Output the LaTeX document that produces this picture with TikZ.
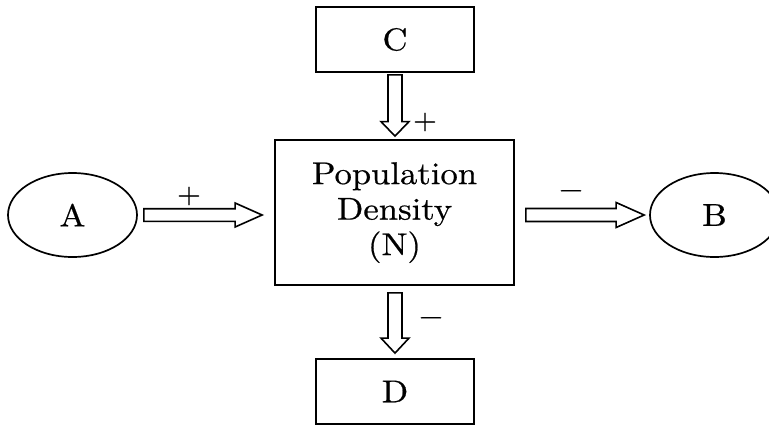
\documentclass[tikz,border=0pt]{standalone}
\usepackage{fontspec}
\setmainfont{lmroman10-regular}[Extension=.otf, FakeStretch=1.1, FakeBold=0.6]
\usetikzlibrary{shapes.geometric,calc}

\newcommand\fatarrow[5]{%
  \draw[fatline] let \p1=(#1), \p2=(#2),
    \n1={veclen(\x2-\x1,\y2-\y1)}, \n2={atan2(\y2-\y1,\x2-\x1)} in
    [shift={(\p1)}, rotate=\n2]
    (0,#3) -- (\n1-#5,#3) -- (\n1-#5,#4) -- (\n1,0) -- (\n1-#5,-#4)
    -- (\n1-#5,-#3) -- (0,-#3) -- cycle;}

\tikzset{
  box/.style={draw, line width=1.8pt, inner sep=0pt, align=center,
    font=\fontsize{31.5}{35.5}\selectfont},
  oval/.style={ellipse, draw, line width=1.7pt, inner sep=0pt,
    minimum width=129, minimum height=84, font=\fontsize{31.5}{36}\selectfont},
  fatline/.style={line width=1.6pt, line join=miter},
  sign/.style={inner sep=0pt, font=\fontsize{28}{28}\selectfont}
}

\begin{document}
\begin{tikzpicture}[x=1pt,y=-1pt]
\useasboundingbox (0,0) rectangle (769,426);

\node[box, minimum width=239, minimum height=145] (N) at (394.5,212.5)
  {\raisebox{-4pt}{\begin{tabular}{@{}c@{}}Population\\Density\\(N)\end{tabular}}};
\node[box, minimum width=158, minimum height=65] (C) at (395,39.5) {C};
\node[box, minimum width=158, minimum height=65] (D) at (395,391.5) {\raisebox{-3pt}{D}};
\node[oval] (A) at (72.5,215) {\raisebox{-4pt}{A}};
\node[oval] (B) at (714.5,215) {\raisebox{-4pt}{B}};

\coordinate (a1) at ($(A.east)+(6,0)$);
\coordinate (a2) at ($(N.west|-A.east)+(-12,0)$);
\coordinate (b1) at ($(N.east|-A.east)+(11,0)$);
\coordinate (b2) at ($(B.west)+(-5,0)$);
\coordinate (c1) at ($(C.south)+(0,2)$);
\coordinate (c2) at ($(N.north-|C.south)+(0,-3)$);
\coordinate (d1) at ($(N.south-|D.north)+(0,7)$);
\coordinate (d2) at ($(D.north)+(0,-5)$);

\fatarrow{a1}{a2}{6.3}{12}{27}
\fatarrow{b1}{b2}{6.5}{12.5}{28}
\fatarrow{c1}{c2}{7}{14}{14.5}
\fatarrow{d1}{d2}{7}{14}{15}

\node[sign] (pA) at (189,196) {+};
\node[sign] (pC) at (425,122) {+};
\node[sign] (mB) at (571,194) {−};
\node[sign] (mD) at (431,321) {−};
\end{tikzpicture}
\end{document}
